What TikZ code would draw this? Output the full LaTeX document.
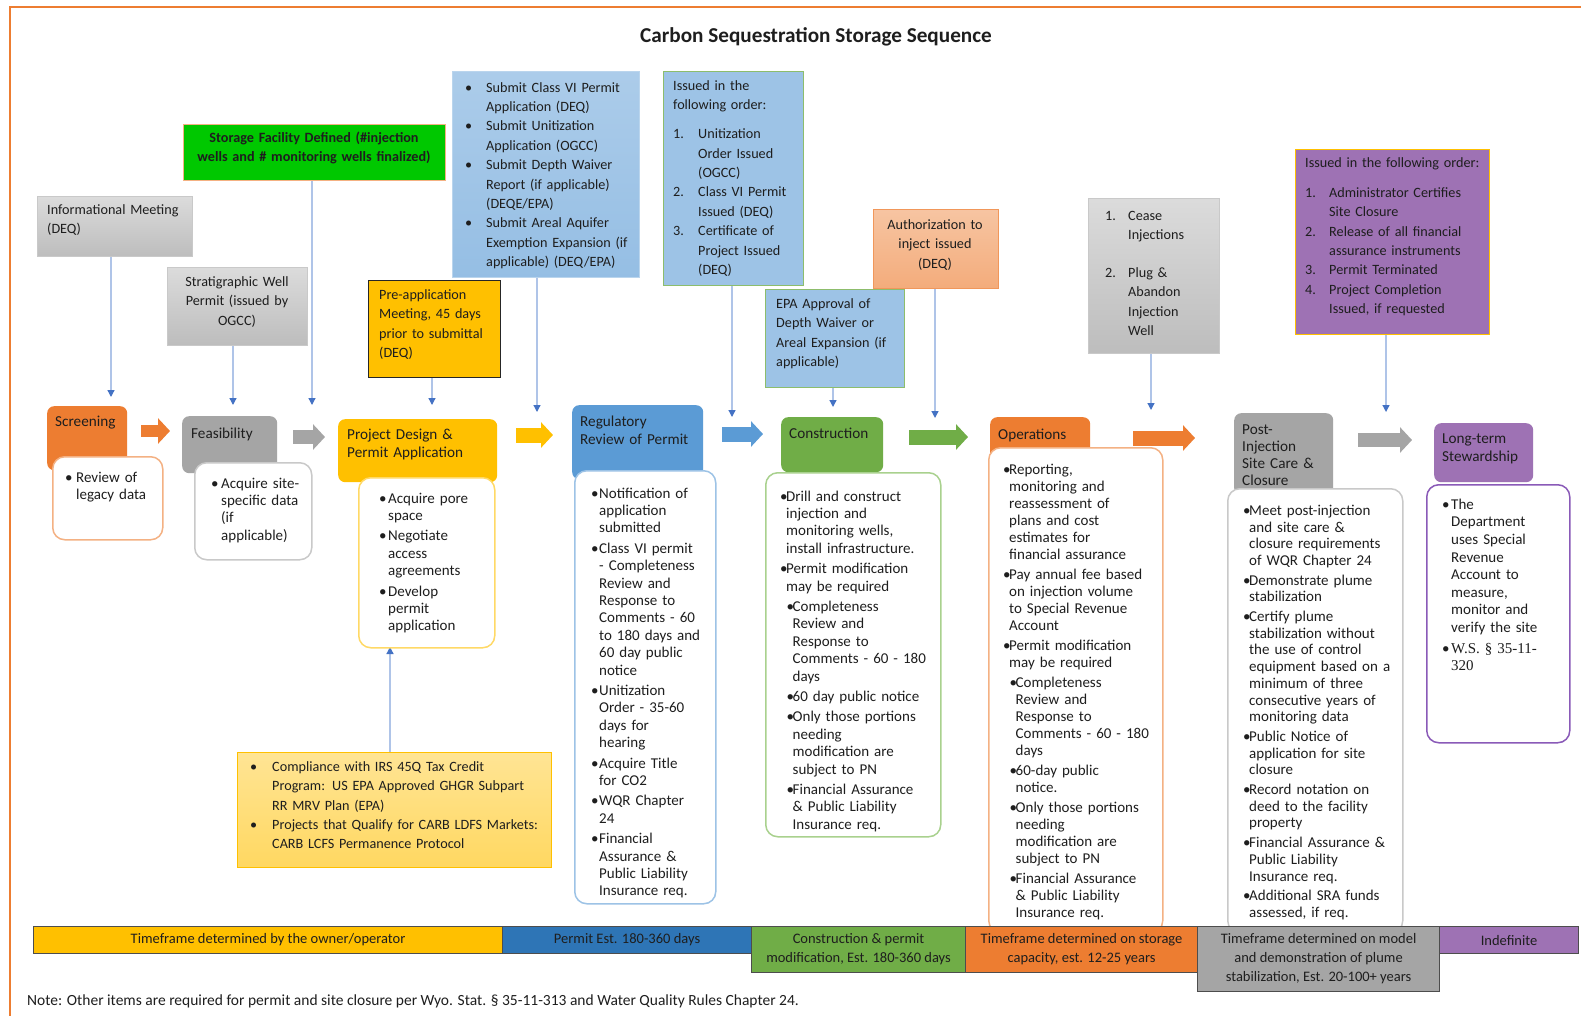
\documentclass[tikz,border=0pt]{standalone}
\usepackage{fontspec}
\setmainfont{Carlito}
\newfontfamily\wsfont{Liberation Serif}
\usetikzlibrary{arrows.meta}
\definecolor{cOrange}{HTML}{ED7D31}
\definecolor{cOrangeL}{HTML}{F4B183}
\definecolor{cGray}{HTML}{A5A5A5}
\definecolor{cGrayL}{HTML}{C9C9C9}
\definecolor{cYellow}{HTML}{FFC000}
\definecolor{cYellowL}{HTML}{FFD966}
\definecolor{cBlue}{HTML}{5B9BD5}
\definecolor{cBlueL}{HTML}{9DC3E6}
\definecolor{cGreen}{HTML}{70AD47}
\definecolor{cGreenL}{HTML}{A9D18E}
\definecolor{cPurple}{HTML}{9E72B4}
\definecolor{cPurpleD}{HTML}{8A5AB8}
\definecolor{cLine}{HTML}{AFC4E8}
\definecolor{cTip}{HTML}{4472C4}
\definecolor{cBarBlue}{HTML}{2E75B6}
\definecolor{cBarB}{HTML}{4D4D4D}
\definecolor{cText}{HTML}{1E1E1E}
\definecolor{cStorage}{HTML}{00C800}
\newlength\bw \newlength\sbw \newlength\nw
\newcommand\nl{\hfil\break}
\newcommand\myitem[1]{\par\hangindent=\bw\hangafter=1\noindent\makebox[\bw][l]{\strut\textbullet}#1}
\newcommand\mysub[1]{\par\hangindent=\dimexpr\bw+\sbw\relax\hangafter=1\noindent\hspace*{\sbw}\makebox[\bw][l]{\strut\textbullet}#1}
\newcommand\mynum[2]{\par\hangindent=\nw\hangafter=1\noindent\makebox[\nw][l]{\strut#1}#2}
\newcommand\fa{\fontsize{14.2}{19.4}\selectfont}
\newcommand\fb{\fontsize{15}{17.4}\selectfont}
\newcommand\fh{\fontsize{15.2}{17.5}\selectfont}
\newcommand\fc{\fontsize{14.5}{19}\selectfont}
\begin{document}
\begin{tikzpicture}[x=1pt,y=-1pt,
  every node/.style={inner sep=0pt, text=cText},
  tbox/.style={anchor=north west, line width=1.3pt},
  graybox/.style={tbox, draw=cGrayL, top color=black!14, bottom color=black!26},
  bluebox/.style={tbox, draw=cBlueL!70!white, top color=cBlueL!85!white, bottom color=cBlueL!88!cBlue},
  ttxt/.style={anchor=north west, align=left, font=\fa},
  ctxt/.style={anchor=north, align=center, font=\fa},
  hdr/.style={anchor=north west, rounded corners=7pt},
  htxt/.style={anchor=north west, align=left, font=\fh},
  body/.style={anchor=north west, fill=white, rounded corners=12pt, line width=1.5pt},
  btxt/.style={anchor=north west, align=left, font=\fb},
  conn/.style={draw=cLine, line width=1.3pt, -{Triangle[length=7pt,width=7pt,color=cTip]}},
  blk/.style={line width=#1, -{Triangle[length=12pt,width=25pt]}},
  bar/.style={anchor=north west, draw=cBarB, line width=1.1pt, align=center, font=\fc}
]
\useasboundingbox (0,0) rectangle (1581,1016);
\fill[white] (0,0) rectangle (1581,1016);
\draw[cOrange, line width=2pt] (10,1016) -- (10,7) -- (1581,7);

\node[font=\fontsize{21.2}{25}\selectfont\bfseries] (title) at (816,37) {Carbon Sequestration Storage Sequence};

% ---------- top boxes ----------
\node[tbox, draw=cOrangeL, fill=cStorage, minimum width=262pt, minimum height=56pt] (stor) at (183,124) {};
\node[ctxt, text width=262pt, font=\fa\bfseries] at (314,128.6) {\strut Storage Facility Defined (\#injection\\wells and \# monitoring wells finalized)};

\node[graybox, minimum width=155pt, minimum height=60pt] (info) at (37,196) {};
\node[ttxt, text width=150pt] at (47,200.6) {\strut Informational Meeting\nl(DEQ)\par};

\node[graybox, minimum width=140pt, minimum height=78pt] (strat) at (167,267) {};
\node[ctxt, text width=140pt] at (237,272.6) {\strut Stratigraphic Well\\Permit (issued by\\OGCC)};

\node[tbox, draw=black!85, fill=cYellow, minimum width=132pt, minimum height=97pt] (pre) at (368,280) {};
\node[ttxt, text width=125pt] at (379,285.6) {\strut Pre-application\nl Meeting, 45 days\nl prior to submittal\nl (DEQ)\par};

\node[bluebox, minimum width=187pt, minimum height=206pt] (sub) at (452,71) {};
\node[ttxt, text width=178pt] at (465,72.6) {\setlength\bw{21pt}\myitem{Submit Class VI Permit\nl Application (DEQ)}\myitem{Submit Unitization\nl Application (OGCC)}\myitem{Submit Depth Waiver\nl Report (if applicable)\nl (DEQE/EPA)}\myitem{Submit Areal Aquifer\nl Exemption Expansion (if\nl applicable) (DEQ/EPA)}\par};

\node[tbox, draw=cGreen!80!white, fill=cBlueL, minimum width=140pt, minimum height=214pt] (iss) at (663,71) {};
\node[ttxt, text width=132pt] at (673,76.6) {\setlength\nw{25pt}\strut Issued in the\nl following order:\par\vspace{9.5pt}\mynum{1.}{Unitization\nl Order Issued\nl (OGCC)}\mynum{2.}{Class VI Permit\nl Issued (DEQ)}\mynum{3.}{Certificate of\nl Project Issued\nl (DEQ)}\par};

\node[tbox, draw=cGreen!80!white, fill=cBlueL, minimum width=139pt, minimum height=98pt] (epa) at (765,289) {};
\node[ttxt, text width=132pt] at (776,294.6) {\strut EPA Approval of\nl Depth Waiver or\nl Areal Expansion (if\nl applicable)\par};

\node[tbox, draw=cOrange!80!white, top color=cOrangeL!75!white, bottom color=cOrangeL!90!cOrange, minimum width=125pt, minimum height=79pt] (auth) at (873,209) {};
\node[ctxt, text width=125pt] at (935,215.6) {\strut Authorization to\\inject issued\\(DEQ)};

\node[graybox, minimum width=131pt, minimum height=155pt] (cease) at (1088,198) {};
\node[ttxt, text width=112pt] at (1105,200.6) {\setlength\nw{23pt}\mynum{1.}{Cease\nl Injections}\par\vspace{18.5pt}\mynum{2.}{Plug \&\nl Abandon\nl Injection\nl Well}\par};

\node[tbox, draw=cYellow, fill=cPurple, minimum width=194pt, minimum height=185pt] (clos) at (1295,149) {};
\node[ttxt, text width=185pt] at (1305,153.6) {\setlength\nw{24pt}\strut Issued in the following order:\par\vspace{10.5pt}\mynum{1.}{Administrator Certifies\nl Site Closure}\mynum{2.}{Release of all financial\nl assurance instruments}\mynum{3.}{Permit Terminated}\mynum{4.}{Project Completion\nl Issued, if requested}\par};

\node[tbox, draw=cYellow, top color=cYellowL!70!white, bottom color=cYellowL!95!cYellow, minimum width=314pt, minimum height=115pt] (comp) at (237,752) {};
\node[ttxt, text width=298pt] at (250,751.6) {\setlength\bw{22pt}\myitem{Compliance with IRS 45Q Tax Credit\nl Program: US EPA Approved GHGR Subpart\nl RR MRV Plan (EPA)}\myitem{Projects that Qualify for CARB LDFS Markets:\nl CARB LCFS Permanence Protocol}\par};

% ---------- connectors ----------
\coordinate (e1) at (111,397);
\coordinate (e2) at (233,405);
\coordinate (e3) at (312,405);
\coordinate (e4) at (432,405);
\coordinate (e5) at (537,412);
\coordinate (e6) at (732,417);
\coordinate (e7) at (833,407);
\coordinate (e8) at (935,418);
\coordinate (e9) at (1151,410);
\coordinate (e10) at (1386,412);
\coordinate (e11) at (390,647);
\draw[conn] (e1 |- info.south) -- (e1);
\draw[conn] (e2 |- strat.south) -- (e2);
\draw[conn] (e3 |- stor.south) -- (e3);
\draw[conn] (e4 |- pre.south) -- (e4);
\draw[conn] (e5 |- sub.south) -- (e5);
\draw[conn] (e6 |- iss.south) -- (e6);
\draw[conn] (e7 |- epa.south) -- (e7);
\draw[conn] (e8 |- auth.south) -- (e8);
\draw[conn] (e9 |- cease.south) -- (e9);
\draw[conn] (e10 |- clos.south) -- (e10);
\draw[conn] (e11 |- comp.north) -- (e11);

% ---------- stage headers ----------
\node[hdr, fill=cOrange, minimum width=80pt, minimum height=64pt] (scr) at (47,406) {};
\node[hdr, fill=cGray, minimum width=95pt, minimum height=57pt] (fea) at (182,416) {};
\node[hdr, fill=cYellow, minimum width=159pt, minimum height=63pt] (pd) at (338,419) {};
\node[hdr, fill=cBlue, minimum width=131pt, minimum height=74pt] (reg) at (572,405) {};
\node[hdr, fill=cGreen, minimum width=102pt, minimum height=55pt] (con) at (781,417) {};
\node[hdr, fill=cOrange, minimum width=100pt, minimum height=45pt] (ops) at (990,417) {};
\node[hdr, fill=cGray, minimum width=99pt, minimum height=82pt] (post) at (1234,413) {};
\node[hdr, fill=cPurple, minimum width=99pt, minimum height=59pt] (lts) at (1434,423) {};

\node[htxt] at (55,414.5) {\strut Screening};
\node[htxt] at (191,426.5) {\strut Feasibility};
\node[htxt, text width=150pt] at (347,427.5) {\strut Project Design \&\nl Permit Application\par};
\node[htxt, text width=125pt] at (580,414.5) {\strut Regulatory\nl Review of Permit\par};
\node[htxt] at (789,426.5) {\strut Construction};
\node[htxt] at (998,427.5) {\strut Operations};
\node[htxt, text width=95pt, font=\fontsize{15.2}{17}\selectfont] at (1242,422.5) {\strut Post-\nl Injection\nl Site Care \&\nl Closure\par};
\node[htxt, text width=95pt] at (1442,431.5) {\strut Long-term\nl Stewardship\par};

% ---------- stage bodies ----------
\node[body, draw=cOrangeL, minimum width=110pt, minimum height=83pt] (scrB) at (52,456) {};
\node[btxt, text width=97pt] at (65,464.4) {\setlength\bw{11pt}\myitem{Review of\nl legacy data}\par};

\node[body, draw=cGrayL, minimum width=117pt, minimum height=97pt] (feaB) at (194,462) {};
\node[btxt, text width=100pt] at (211,470.4) {\setlength\bw{10pt}\myitem{Acquire site-\nl specific data\nl (if\nl applicable)}\par};

\node[body, draw=cYellowL, minimum width=136pt, minimum height=170pt] (pdB) at (358,477) {};
\node[btxt, text width=115pt] at (379,482.4) {\setlength\parskip{3pt}\setlength\bw{9pt}\myitem{Acquire pore\nl space}\myitem{Negotiate\nl access\nl agreements}\myitem{Develop\nl permit\nl application}\par};

\node[body, draw=cBlueL, minimum width=141pt, minimum height=433pt] (regB) at (574,470) {};
\node[btxt, text width=125pt] at (591,477.4) {\setlength\parskip{3pt}\setlength\bw{8pt}\myitem{Notification of\nl application\nl submitted}\myitem{Class VI permit\nl - Completeness\nl Review and\nl Response to\nl Comments - 60\nl to 180 days and\nl 60 day public\nl notice}\myitem{Unitization\nl Order - 35-60\nl days for\nl hearing}\myitem{Acquire Title\nl for CO2}\myitem{WQR Chapter\nl 24}\myitem{Financial\nl Assurance \&\nl Public Liability\nl Insurance req.}\par};

\node[body, draw=cGreenL, minimum width=175pt, minimum height=364pt] (conB) at (765,472) {};
\node[btxt, text width=162pt] at (780,480.4) {\setlength\parskip{3pt}\setlength\bw{6pt}\setlength\sbw{6.5pt}\myitem{Drill and construct\nl injection and\nl monitoring wells,\nl install infrastructure.}\myitem{Permit modification\nl may be required}\mysub{Completeness\nl Review and\nl Response to\nl Comments - 60 - 180\nl days}\mysub{60 day public notice}\mysub{Only those portions\nl needing\nl modification are\nl subject to PN}\mysub{Financial Assurance\nl \& Public Liability\nl Insurance req.}\par};

\node[body, draw=cOrangeL, minimum width=174pt, minimum height=485pt] (opsB) at (988,447) {};
\node[btxt, text width=160pt, font=\fontsize{15}{17}\selectfont] at (1003,454.4) {\setlength\parskip{3pt}\setlength\bw{6pt}\setlength\sbw{6.5pt}\myitem{Reporting,\nl monitoring and\nl reassessment of\nl plans and cost\nl estimates for\nl financial assurance}\myitem{Pay annual fee based\nl on injection volume\nl to Special Revenue\nl Account}\myitem{Permit modification\nl may be required}\mysub{Completeness\nl Review and\nl Response to\nl Comments - 60 - 180\nl days}\mysub{60-day public\nl notice.}\mysub{Only those portions\nl needing\nl modification are\nl subject to PN}\mysub{Financial Assurance\nl \& Public Liability\nl Insurance req.}\par};

\node[body, draw=cGrayL, minimum width=175pt, minimum height=444pt] (postB) at (1227,488) {};
\node[btxt, text width=160pt, font=\fontsize{15}{16.7}\selectfont] at (1243,495.4) {\setlength\parskip{3pt}\setlength\bw{6pt}\myitem{Meet post-injection\nl and site care \&\nl closure requirements\nl of WQR Chapter 24}\myitem{Demonstrate plume\nl stabilization}\myitem{Certify plume\nl stabilization without\nl the use of control\nl equipment based on a\nl minimum of three\nl consecutive years of\nl monitoring data}\myitem{Public Notice of\nl application for site\nl closure}\myitem{Record notation on\nl deed to the facility\nl property}\myitem{Financial Assurance \&\nl Public Liability\nl Insurance req.}\myitem{Additional SRA funds\nl assessed, if req.}\par};

\node[body, draw=cPurpleD, minimum width=143pt, minimum height=258pt] (ltsB) at (1426,484) {};
\node[btxt, text width=125pt, font=\fontsize{15}{17.6}\selectfont] at (1442,488.4) {\setlength\parskip{3pt}\setlength\bw{9pt}\myitem{The\nl Department\nl uses Special\nl Revenue\nl Account to\nl measure,\nl monitor and\nl verify the site}\myitem{{\wsfont W.S. § 35-11-\nl 320}}\par};

% ---------- block arrows between stages ----------
\coordinate (a1s) at (141,431); \coordinate (a1e) at (170,431);
\coordinate (a2s) at (293,437); \coordinate (a2e) at (325,437);
\coordinate (a3s) at (516,435); \coordinate (a3e) at (553,435);
\coordinate (a4s) at (722,434); \coordinate (a4e) at (763,434);
\coordinate (a5s) at (909,437); \coordinate (a5e) at (968,437);
\coordinate (a6s) at (1133,438); \coordinate (a6e) at (1195,438);
\coordinate (a7s) at (1358,440); \coordinate (a7e) at (1412,440);
\draw[blk=12pt, cOrange] (a1s) -- (a1e);
\draw[blk=14pt, cGray] (a2s) -- (a2e);
\draw[blk=15pt, cYellow] (a3s) -- (a3e);
\draw[blk=15pt, cBlue] (a4s) -- (a4e);
\draw[blk=15pt, cGreen] (a5s) -- (a5e);
\draw[blk=15pt, cOrange] (a6s) -- (a6e);
\draw[blk=14pt, cGray] (a7s) -- (a7e);

% ---------- timeline bars ----------
\node[bar, fill=cYellow, minimum width=469pt, minimum height=27pt] (t1) at (33,926) {Timeframe determined by the owner/operator};
\node[bar, fill=cBarBlue, minimum width=249pt, minimum height=27pt] (t2) at (502,926) {Permit Est. 180-360 days};
\node[bar, fill=cGreen, minimum width=214pt, minimum height=46pt] (t3) at (751,926) {Construction \& permit\\modification, Est. 180-360 days};
\node[bar, fill=cOrange, minimum width=232pt, minimum height=46pt] (t4) at (965,926) {Timeframe determined on storage\\capacity, est. 12-25 years};
\node[bar, fill=cGray, minimum width=242pt, minimum height=65pt] (t5) at (1197,926) {Timeframe determined on model\\and demonstration of plume\\stabilization, Est. 20-100+ years};
\node[bar, fill=cPurple, minimum width=139pt, minimum height=27pt] (t6) at (1439,926) {Indefinite};

\node[anchor=west, font=\fontsize{15.5}{19}\selectfont] (note) at (27,1001) {Note: Other items are required for permit and site closure per Wyo. Stat. § 35-11-313 and Water Quality Rules Chapter 24.};
\end{tikzpicture}
\end{document}
